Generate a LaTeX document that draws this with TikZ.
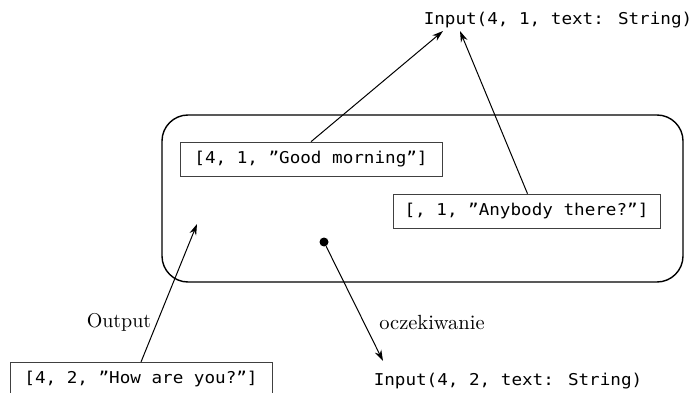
\documentclass[tikz,border=0pt]{standalone}
\usepackage{fontspec}
\newfontfamily\monofnt[FakeStretch=1.08]{DejaVu Sans Mono}
\usetikzlibrary{arrows.meta}
\begin{document}
\begin{tikzpicture}[x=1pt,y=-1pt,
  mono/.style={font=\monofnt\fontsize{16.3}{18}\selectfont, inner sep=0pt},
  msgbox/.style={draw=black!75, line width=0.6pt, font=\monofnt\fontsize{16.3}{18}\selectfont, inner sep=0pt, minimum height=34pt},
  lbl/.style={inner sep=0pt},
  arr/.style={-{Stealth[length=11pt,width=7pt]}, line width=1pt},
  frame/.style={draw, line width=1.4pt, rounded corners=26pt}]
\useasboundingbox (0,0) rectangle (691,393);
\node[mono] (in1) at (558,20) {Input(4, 1, text: String)};
\node[mono] (in2) at (508,381) {Input(4, 2, text: String)};
\draw[frame] (162,115) rectangle (683,282);
\node[msgbox, minimum width=262pt] (gm) at (311,159) {[4, 1, ”Good morning”]};
\node[msgbox, minimum width=267pt] (ab) at (526.5,211) {[, 1, ”Anybody there?”]};
\node[msgbox, minimum width=262pt, anchor=north] (hw) at (141,362) {[4, 2, ”How are you?”]};
\node[circle, fill, inner sep=0pt, minimum size=9pt] (dot) at (324,242) {};
\coordinate (t1) at (443,31);
\coordinate (t2) at (460,31);
\coordinate (t3) at (197,224);
\coordinate (t4) at (383,361);
\draw[arr] (gm.north) -- (t1);
\draw[arr] ([xshift=1pt]ab.north) -- (t2);
\draw[arr] (hw.north) -- (t3);
\draw[arr] (dot) -- (t4);
\node[lbl] (out) at (119,322) {\scalebox{2.0}{Output}};
\node[lbl] (ocz) at (432,322) {\scalebox{2.05}{oczekiwanie}};
\end{tikzpicture}
\end{document}
